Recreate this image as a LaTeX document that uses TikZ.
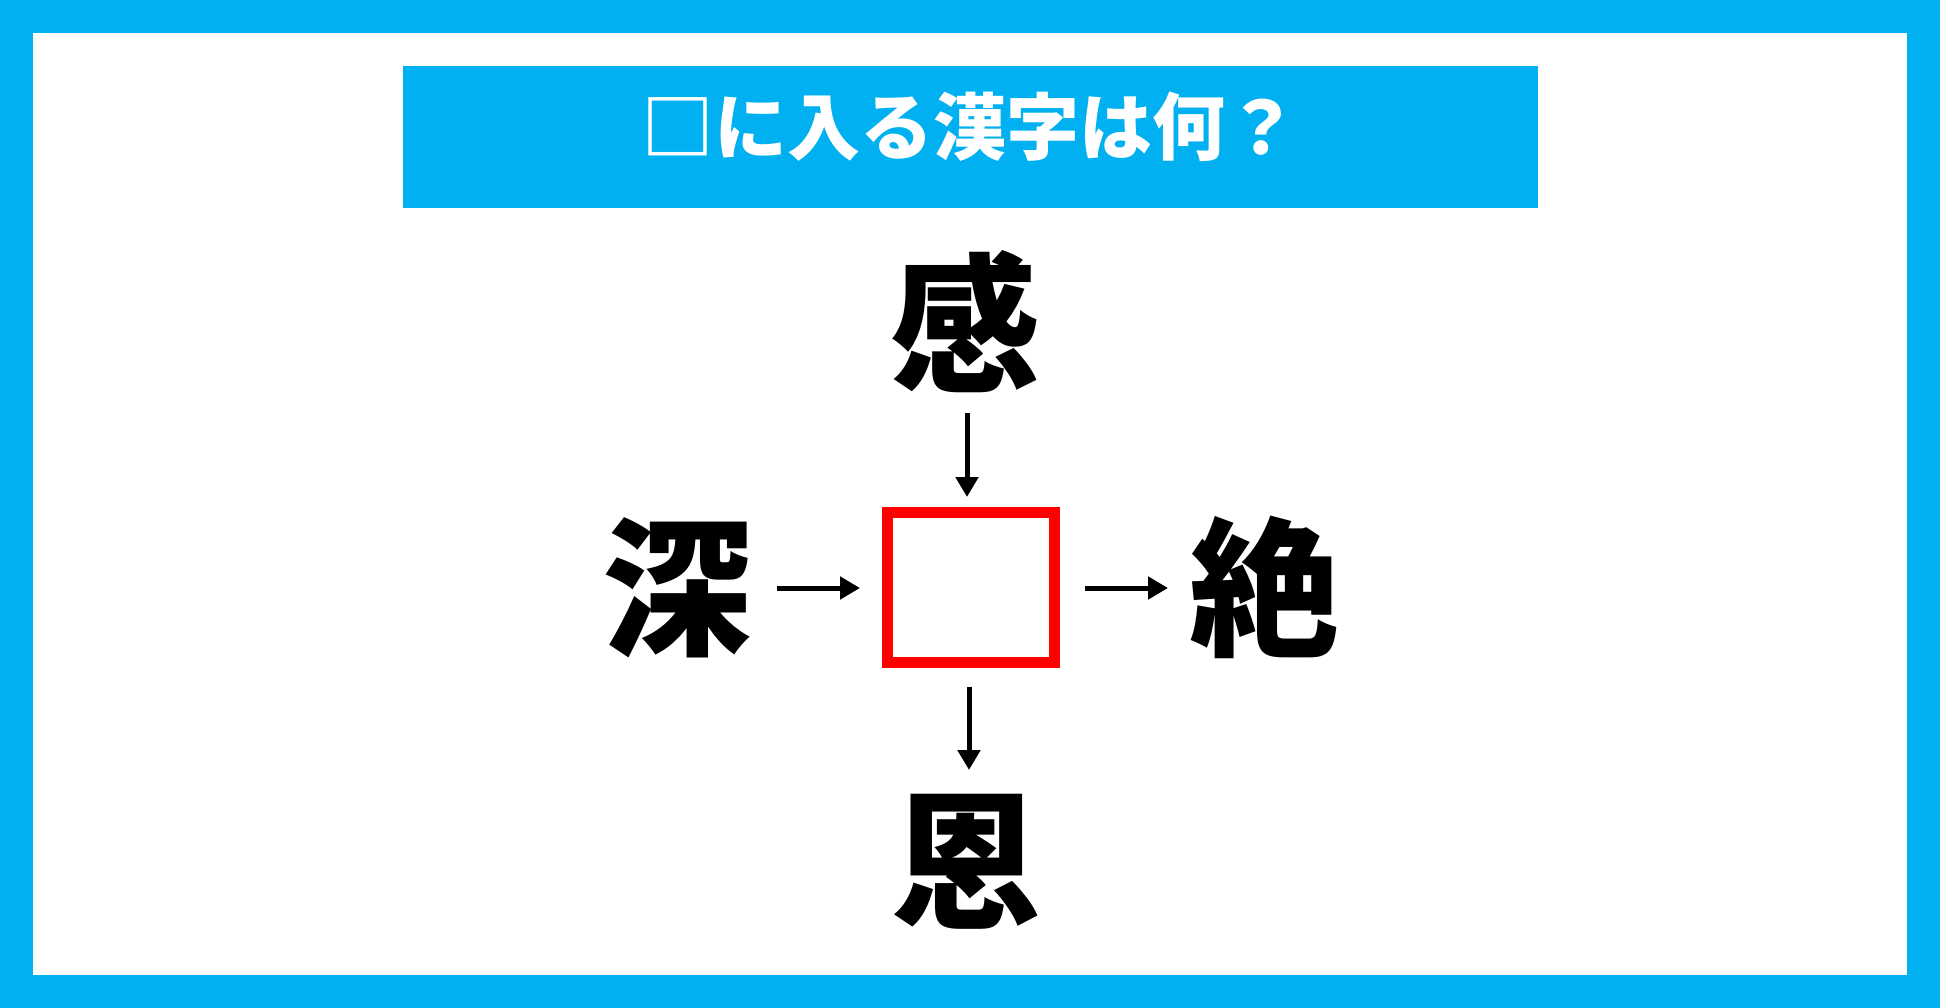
\documentclass[tikz,border=0pt]{standalone}
\usepackage{fontspec}
\usetikzlibrary{arrows.meta}
\newfontfamily\cjkb{Noto Sans CJK JP}[UprightFont=* Black]
\definecolor{frameblue}{RGB}{0,176,240}
\definecolor{qred}{RGB}{255,0,0}
\tikzset{
  kanji/.style={inner sep=0pt, font=\cjkb\fontsize{150}{150}\selectfont, text height=132pt, text depth=18pt, anchor=center},
  arr/.style={line width=5pt, -{Triangle[length=20pt,width=22pt]}},
}
\begin{document}
\begin{tikzpicture}[x=1pt,y=-1pt]
\useasboundingbox (0,0) rectangle (1940,1008);
\fill[frameblue] (0,0) rectangle (1940,1008);
\fill[white] (33,33) rectangle (1907,975);
\fill[frameblue] (403,66) rectangle (1538,208);
\node[inner sep=0pt, text=white, font=\cjkb\fontsize{73}{73}\selectfont, text height=64.2pt, text depth=8.8pt] (title) at (970,127) {□に入る漢字は何？};
\node[draw=qred, line width=11pt, minimum width=167pt, minimum height=150pt, inner sep=0pt] (q) at (971,587.5) {};
\node[kanji] (top) at (965,323) {感};
\node[kanji] (left) at (677,587) {深};
\node[kanji] (right) at (1264,587) {絶};
\node[kanji] (bottom) at (966,860) {恩};
\coordinate (t1) at (967,413); \coordinate (t2) at (967,497);
\coordinate (b1) at (969,687); \coordinate (b2) at (969,770);
\coordinate (l1) at (777,588); \coordinate (l2) at (860,588);
\coordinate (r1) at (1085,588); \coordinate (r2) at (1168,588);
\draw[arr] (t1) -- (t2);
\draw[arr] (b1) -- (b2);
\draw[arr] (l1) -- (l2);
\draw[arr] (r1) -- (r2);
\end{tikzpicture}
\end{document}
